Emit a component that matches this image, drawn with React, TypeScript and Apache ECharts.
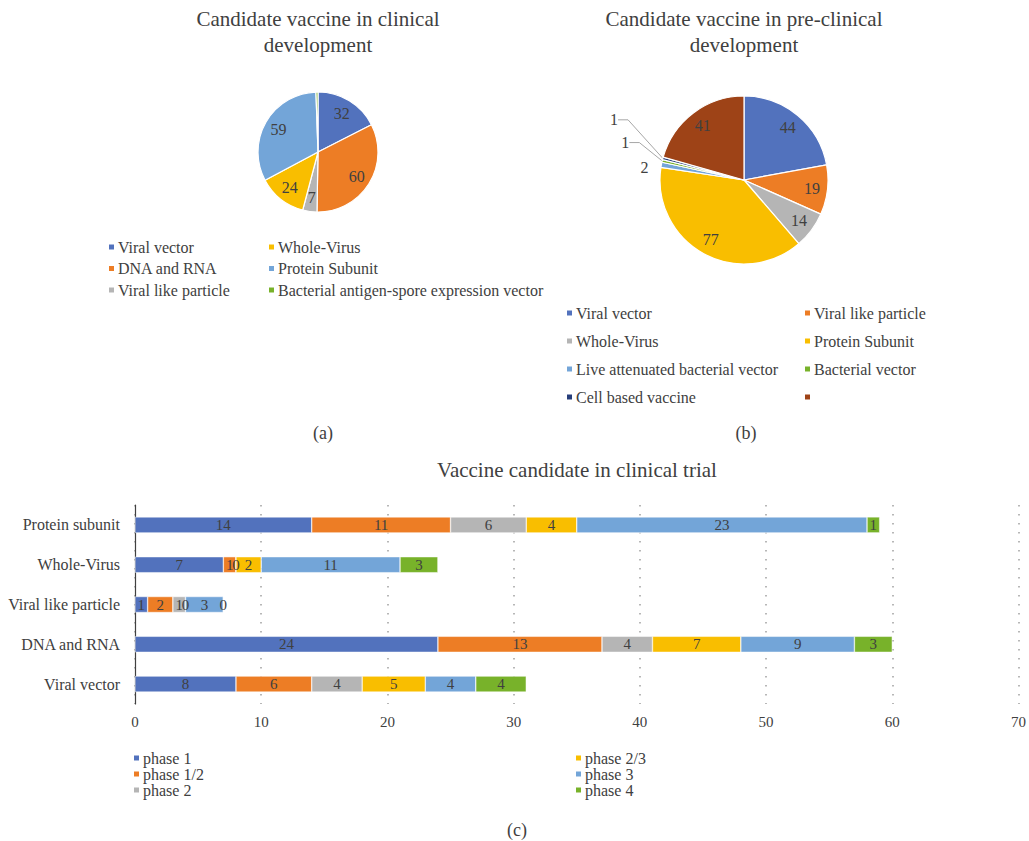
import React, { useEffect, useRef } from "react";
import * as echarts from "echarts";

// Pie (a): candidates in clinical development
const clinicalTypes = [
  "Viral vector",
  "DNA and RNA",
  "Viral like particle",
  "Whole-Virus",
  "Protein Subunit",
  "Bacterial antigen-spore expression vector",
];
const clinicalCounts = [32, 60, 7, 24, 59, 1];

// Pie (b): candidates in pre-clinical development
const preTypes = [
  "Viral vector",
  "Viral like particle",
  "Whole-Virus",
  "Protein Subunit",
  "Live attenuated bacterial vector",
  "Bacterial vector",
  "Cell based vaccine",
  " ",
];
const preCounts = [44, 19, 14, 77, 2, 1, 1, 41];

// Bar (c): candidates in clinical trial by phase
const trialCategories = ["Viral vector", "DNA and RNA", "Viral like particle", "Whole-Virus", "Protein subunit"];
const phaseNames = ["phase 1", "phase 1/2", "phase 2", "phase 2/3", "phase 3", "phase 4"];
const phase1 = [8, 24, 1, 7, 14];
const phase12 = [6, 13, 2, 1, 11];
const phase2 = [4, 4, 1, 0, 6];
const phase23 = [5, 7, 0, 2, 4];
const phase3 = [4, 9, 3, 11, 23];
const phase4 = [4, 3, 0, 3, 1];
const phaseValues = [phase1, phase12, phase2, phase23, phase3, phase4];
const xTicks = [0, 10, 20, 30, 40, 50, 60, 70];

const BLUE = "#5272BD";
const ORANGE = "#ED7D25";
const GRAY = "#B5B5B5";
const YELLOW = "#F9BE00";
const LIGHTBLUE = "#73A5D8";
const GREEN = "#78B22A";
const NAVY = "#263D7A";
const BROWN = "#9E4317";
const palette = [BLUE, ORANGE, GRAY, YELLOW, LIGHTBLUE, GREEN, NAVY, BROWN];
const clinicalColors = [BLUE, ORANGE, GRAY, YELLOW, LIGHTBLUE, GREEN];

const FONT = "'Liberation Serif', 'Times New Roman', serif";
const TEXT = "#404040";
const LEGEND_SIZE = 16;

function titleText(x: number, y: number, text: string, size: number) {
  return {
    type: "text",
    x,
    y,
    silent: true,
    style: {
      text,
      fill: TEXT,
      font: `${size}px ${FONT}`,
      align: "center",
      verticalAlign: "middle",
      textAlign: "center",
      textVerticalAlign: "middle",
    },
  };
}

function legendBlock(names: string[], left: number, top: number, gap: number, colors?: string[]) {
  return {
    orient: "vertical",
    left,
    top,
    itemGap: gap,
    itemWidth: 7,
    itemHeight: 7,
    icon: "rect",
    padding: 0,
    selectedMode: false,
    textStyle: { color: TEXT, fontFamily: FONT, fontSize: LEGEND_SIZE, padding: [0, 0, 0, -2] },
    data: names.map((n, i) => (colors ? { name: n, itemStyle: { color: colors[i] } } : { name: n })),
  };
}

function buildPieA() {
  const R = 60;
  const main = clinicalTypes.map((name, i) => ({
    name,
    value: clinicalCounts[i],
    itemStyle: { color: clinicalColors[i] },
  }));
  return {
    animation: false,
    graphic: [
      titleText(318, 19, "Candidate vaccine in clinical", 21),
      titleText(318, 45, "development", 21),
      titleText(323, 433, "(a)", 18),
    ],
    legend: [
      legendBlock([clinicalTypes[0], clinicalTypes[1], clinicalTypes[2]], 107, 239, 5.5),
      legendBlock([clinicalTypes[3], clinicalTypes[4], clinicalTypes[5]], 267, 239, 5.5),
    ],
    series: [
      {
        type: "pie",
        center: [318, 152],
        radius: [0, R],
        startAngle: 90,
        clockwise: true,
        silent: true,
        label: { show: false },
        labelLine: { show: false },
        itemStyle: { borderColor: "#fff", borderWidth: 1.2 },
        data: main,
      },
      {
        type: "pie",
        center: [318, 152],
        radius: [R * 0.42, R],
        startAngle: 90,
        clockwise: true,
        silent: true,
        itemStyle: { color: "transparent" },
        label: {
          show: true,
          position: "inside",
          formatter: (p: any) => (p.value >= 2 ? String(p.value) : ""),
          color: TEXT,
          fontFamily: FONT,
          fontSize: 16,
        },
        labelLine: { show: false },
        data: clinicalTypes.map((name, i) => ({ name, value: clinicalCounts[i] })),
      },
    ],
  };
}

// nudges for the outside labels of the thinnest pre-clinical slices
const smallLabelShift: Record<number, [number, number]> = {
  4: [8, 4],
  5: [-12, -17],
  6: [-24, -37],
};

function buildPieB() {
  const R = 84;
  const main = preTypes.map((name, i) => {
    const small = preCounts[i] <= 2;
    return {
      name,
      value: preCounts[i],
      itemStyle: { color: palette[i] },
      label: { show: small },
      labelLine: { show: small && preCounts[i] === 1 },
    };
  });
  return {
    animation: false,
    graphic: [
      titleText(744, 19, "Candidate vaccine in pre-clinical", 21),
      titleText(744, 45, "development", 21),
      titleText(746, 433, "(b)", 18),
    ],
    legend: [
      legendBlock([preTypes[0], preTypes[2], preTypes[4], preTypes[6]], 565, 305, 12, [palette[0], palette[2], palette[4], palette[6]]),
      legendBlock([preTypes[1], preTypes[3], preTypes[5], preTypes[7]], 803, 305, 12, [palette[1], palette[3], palette[5], palette[7]]),
    ],
    series: [
      {
        type: "pie",
        center: [744, 180],
        radius: [0, R],
        startAngle: 90,
        clockwise: true,
        silent: true,
        avoidLabelOverlap: false,
        itemStyle: { borderColor: "#fff", borderWidth: 1.2 },
        label: {
          position: "outside",
          formatter: "{c}",
          color: TEXT,
          fontFamily: FONT,
          fontSize: 16,
        },
        labelLine: { length: 6, length2: 10, lineStyle: { color: "#A6A6A6", width: 1 } },
        labelLayout: (p: any) => {
          const s = smallLabelShift[p.dataIndex];
          if (!s || !p.labelRect) return {};
          const r = p.labelRect;
          return {
            x: r.x + r.width + s[0],
            y: r.y + r.height / 2 + s[1],
            align: "right",
            verticalAlign: "middle",
          };
        },
        data: main,
      },
      {
        type: "pie",
        center: [744, 180],
        radius: [R * 0.56, R],
        startAngle: 90,
        clockwise: true,
        silent: true,
        itemStyle: { color: "transparent" },
        label: {
          show: true,
          position: "inside",
          formatter: (p: any) => (p.value > 2 ? String(p.value) : ""),
          color: TEXT,
          fontFamily: FONT,
          fontSize: 16,
        },
        labelLine: { show: false },
        data: preTypes.map((name, i) => ({ name, value: preCounts[i] })),
      },
    ],
  };
}

function buildBars() {
  const phaseColors = [BLUE, ORANGE, GRAY, YELLOW, LIGHTBLUE, GREEN];
  return {
    animation: false,
    graphic: [
      titleText(577, 470, "Vaccine candidate in clinical trial", 21),
      titleText(517, 830, "(c)", 18),
    ],
    legend: [
      legendBlock(phaseNames.slice(0, 3), 132, 750, 0),
      legendBlock(phaseNames.slice(3), 574, 750, 0),
    ],
    grid: { left: 135, right: 9, top: 505, bottom: 137, containLabel: false },
    xAxis: {
      type: "value",
      min: xTicks[0],
      max: xTicks[xTicks.length - 1],
      interval: 10,
      axisLine: { show: false },
      axisTick: { show: false },
      axisLabel: { color: TEXT, fontFamily: FONT, fontSize: 15, margin: 10 },
      splitLine: { show: true, lineStyle: { color: "#A0A0A0", type: [1.5, 7.5], width: 1.5 } },
    },
    yAxis: {
      type: "category",
      data: trialCategories,
      axisLine: { show: true, lineStyle: { color: "#404040", width: 1.2 } },
      axisTick: { show: false },
      axisLabel: { color: TEXT, fontFamily: FONT, fontSize: 16, margin: 15 },
    },
    series: phaseNames.map((name, i) => ({
      type: "bar",
      name,
      stack: "total",
      barWidth: 16,
      silent: true,
      itemStyle: { color: phaseColors[i], borderColor: "#fff", borderWidth: 0.5 },
      label: {
        show: true,
        position: "inside",
        color: TEXT,
        fontFamily: FONT,
        fontSize: 15,
      },
      data: phaseValues[i],
    })),
  };
}

function ChartLayer({ build }: { build: () => any }) {
  const ref = useRef<HTMLDivElement>(null);
  useEffect(() => {
    if (!ref.current) return;
    const chart = echarts.init(ref.current, undefined, { renderer: "svg" });
    chart.setOption(build());
    return () => chart.dispose();
  }, [build]);
  return (
    <div
      ref={ref}
      style={{ position: "fixed", left: 0, top: 0, width: 1029, height: 841 }}
    />
  );
}

export default function App() {
  return (
    <div style={{ position: "fixed", left: 0, top: 0, width: 1029, height: 841, background: "#fff" }}>
      <ChartLayer build={buildPieA} />
      <ChartLayer build={buildPieB} />
      <ChartLayer build={buildBars} />
    </div>
  );
}
